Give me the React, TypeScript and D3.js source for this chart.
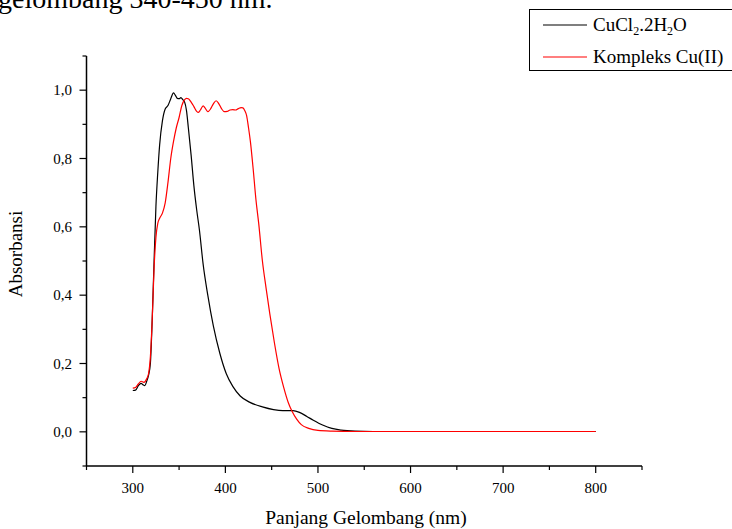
import React from "react";
import * as d3 from "d3";

const W = 732;
const H = 529;

const blackWl = [300, 303, 306, 309, 311, 313, 315, 317, 319, 321, 323, 325, 327, 329, 332, 335, 338, 341, 344, 346, 348, 350, 352, 354, 356, 358, 360, 363, 366, 369, 372, 376, 381, 387, 394, 401, 408, 416, 426, 440, 452, 462, 473, 480, 488, 495, 505, 515, 525, 540, 560, 600, 700, 800];
const blackAbs = [0.121, 0.122, 0.135, 0.142, 0.138, 0.135, 0.148, 0.165, 0.2, 0.33, 0.5, 0.66, 0.76, 0.84, 0.91, 0.945, 0.955, 0.975, 0.992, 0.985, 0.976, 0.975, 0.978, 0.972, 0.965, 0.94, 0.89, 0.81, 0.72, 0.65, 0.59, 0.49, 0.4, 0.31, 0.23, 0.17, 0.133, 0.105, 0.087, 0.073, 0.065, 0.062, 0.062, 0.057, 0.045, 0.034, 0.02, 0.01, 0.005, 0.002, 0.001, 0.001, 0.001, 0.001];

const redWl = [300, 303, 306, 309, 312, 315, 317, 319, 321, 323, 325, 327, 329, 332, 335, 338, 341, 344, 347, 350, 353, 356, 358, 360, 363, 366, 369, 371, 373, 376, 378, 381, 384, 387, 390, 393, 396, 399, 402, 405, 408, 411, 414, 417, 419, 421, 423, 425, 427, 430, 433, 436, 440, 444, 448, 453, 458, 463, 468, 472, 477, 482, 490, 500, 515, 540, 600, 700, 800];
const redAbs = [0.128, 0.13, 0.14, 0.148, 0.145, 0.155, 0.17, 0.22, 0.33, 0.48, 0.57, 0.61, 0.625, 0.64, 0.67, 0.73, 0.8, 0.85, 0.89, 0.92, 0.955, 0.972, 0.976, 0.975, 0.965, 0.952, 0.938, 0.935, 0.942, 0.954, 0.948, 0.937, 0.945, 0.96, 0.969, 0.96, 0.945, 0.937, 0.938, 0.942, 0.943, 0.942, 0.946, 0.949, 0.948, 0.94, 0.925, 0.89, 0.85, 0.77, 0.68, 0.61, 0.5, 0.42, 0.345, 0.26, 0.185, 0.13, 0.085, 0.06, 0.037, 0.021, 0.01, 0.004, 0.002, 0.001, 0.001, 0.001, 0.001];

const xMajor = [300, 400, 500, 600, 700, 800];
const xMinor = [250, 350, 450, 550, 650, 750, 850];
const yMajor = [0, 0.2, 0.4, 0.6, 0.8, 1.0];
const yMinor = [-0.1, 0.1, 0.3, 0.5, 0.7, 0.9, 1.1];

const seriesNames = ["CuCl2.2H2O", "Kompleks Cu(II)"];
const seriesColors = ["#000000", "#ff0000"];

const FONT = "'Liberation Serif', 'Times New Roman', serif";

export default function App() {
  const x = d3.scaleLinear().domain([250, 850]).range([86.5, 642]);
  const y = d3.scaleLinear().domain([-0.1, 1.1]).range([466, 56]);
  const line = d3
    .line<[number, number]>()
    .x((d) => x(d[0]))
    .y((d) => y(d[1]))
    .curve(d3.curveMonotoneX);
  const blackPts = blackWl.map((w, i) => [w, blackAbs[i]] as [number, number]);
  const redPts = redWl.map((w, i) => [w, redAbs[i]] as [number, number]);
  const fmt = (v: number) => v.toFixed(1).replace(".", ",");
  const x0 = x(250);
  const yb = y(-0.1);

  return (
    <svg
      width={W}
      height={H}
      style={{ position: "absolute", left: 0, top: 0, background: "#fff" }}
      fontFamily={FONT}
    >
      <rect x={0} y={0} width={W} height={H} fill="#fff" />
      <text x={-2} y={8} fontSize={28} fill="#000">
        gelombang 340-450 nm.
      </text>

      {/* curves */}
      <path d={line(blackPts) || ""} fill="none" stroke={seriesColors[0]} strokeWidth={1.2} />
      <path d={line(redPts) || ""} fill="none" stroke={seriesColors[1]} strokeWidth={1.2} />

      {/* axes */}
      <line x1={x0} x2={x0} y1={y(1.1)} y2={yb} stroke="#000" strokeWidth={1.5} />
      <line x1={x0} x2={x(850)} y1={yb} y2={yb} stroke="#000" strokeWidth={1.5} />
      {xMajor.map((v) => (
        <g key={"xm" + v}>
          <line x1={x(v)} x2={x(v)} y1={yb} y2={yb + 7} stroke="#000" strokeWidth={1.2} />
          <text x={x(v)} y={493} fontSize={15} textAnchor="middle">
            {v}
          </text>
        </g>
      ))}
      {xMinor.map((v) => (
        <line key={"xn" + v} x1={x(v)} x2={x(v)} y1={yb} y2={yb + 4} stroke="#000" strokeWidth={1.2} />
      ))}
      {yMajor.map((v) => (
        <g key={"ym" + v}>
          <line x1={x0 - 7} x2={x0} y1={y(v)} y2={y(v)} stroke="#000" strokeWidth={1.2} />
          <text x={72} y={y(v) + 5} fontSize={15} textAnchor="end">
            {fmt(v)}
          </text>
        </g>
      ))}
      {yMinor.map((v) => (
        <line key={"yn" + v} x1={x0 - 4} x2={x0} y1={y(v)} y2={y(v)} stroke="#000" strokeWidth={1.2} />
      ))}

      <text x={366} y={524} fontSize={19.5} textAnchor="middle">
        Panjang Gelombang (nm)
      </text>
      <text transform={`translate(22,254) rotate(-90)`} fontSize={19} textAnchor="middle">
        Absorbansi
      </text>

      {/* legend */}
      <rect x={529.5} y={9.5} width={210} height={61} fill="#fff" stroke="#000" strokeWidth={1} />
      <line x1={543} x2={587} y1={25} y2={25} stroke={seriesColors[0]} strokeWidth={1.2} />
      <text x={593} y={31} fontSize={19}>
        CuCl<tspan fontSize={12} dy={4}>2</tspan>
        <tspan dy={-4}>.2H</tspan>
        <tspan fontSize={12} dy={4}>2</tspan>
        <tspan dy={-4}>O</tspan>
      </text>
      <line x1={543} x2={587} y1={57} y2={57} stroke={seriesColors[1]} strokeWidth={1.2} />
      <text x={593} y={63} fontSize={19}>
        {seriesNames[1]}
      </text>
    </svg>
  );
}
